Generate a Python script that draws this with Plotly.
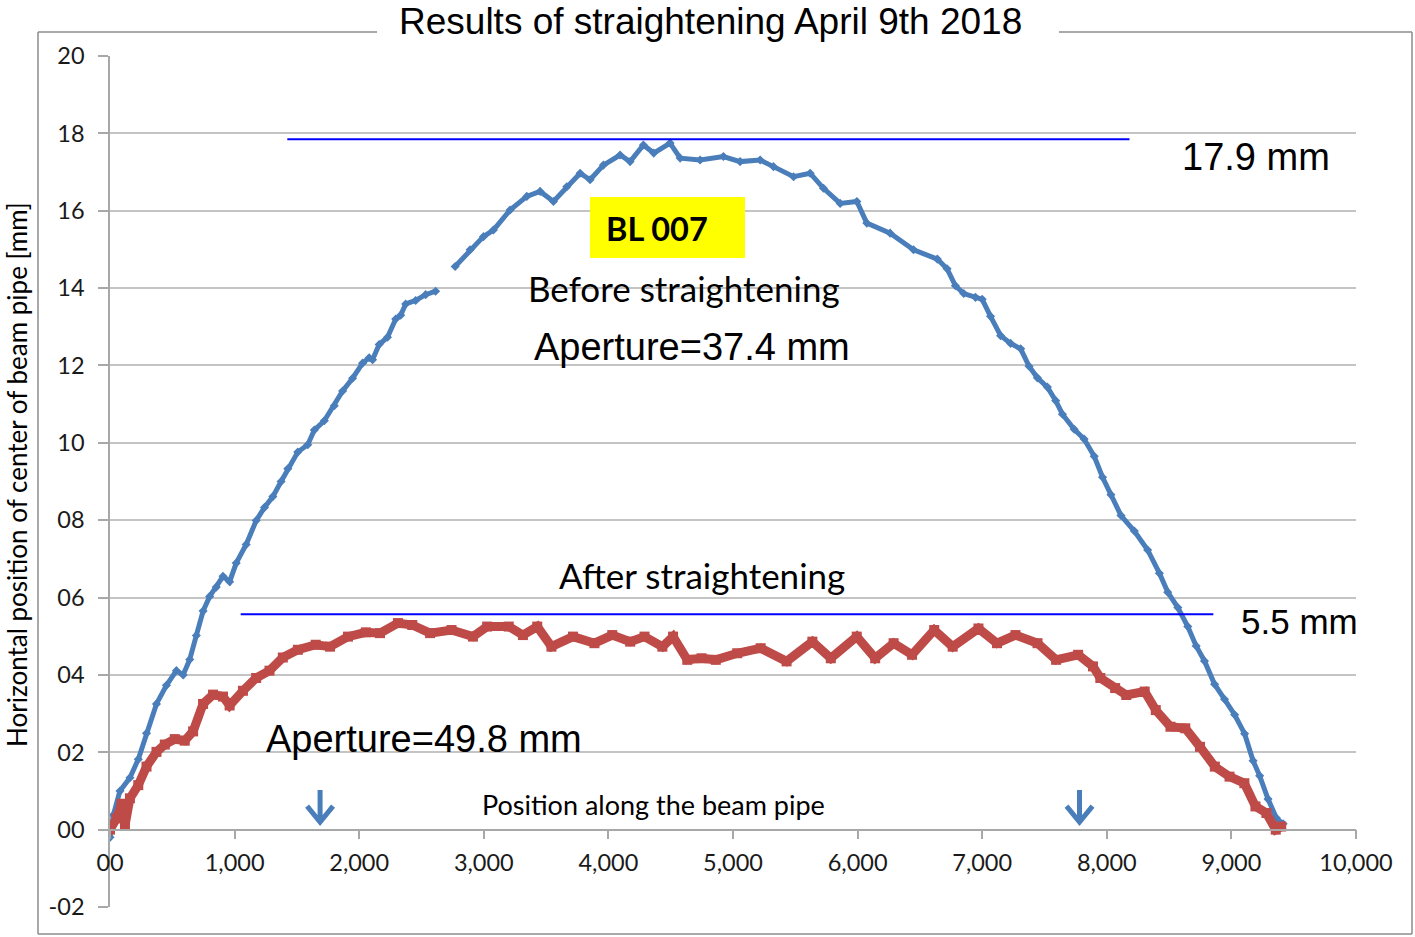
import plotly.graph_objects as go

# ---------------- data ----------------
before_x = [0, 27, 80, 160, 227, 293, 373, 453, 533, 587, 640, 693, 747, 800, 853, 907, 960, 1013,
            1093, 1173, 1240, 1307, 1373, 1427, 1507, 1587, 1640, 1720, 1800, 1867, 1947, 2027, 2080,
            2107, 2160, 2227, 2293, 2333, 2373, 2453, 2533, 2613, None,
            2770, 2890, 2997, 3077, 3211, 3345, 3452, 3559, 3666, 3773, 3853, 3960, 4094, 4174, 4281,
            4364, 4495, 4576, 4736, 4923, 5057, 5218, 5325, 5486, 5619, 5726, 5860, 5994, 6074, 6261,
            6449, 6640, 6718, 6785, 6852, 6946, 7000, 7067, 7148, 7228, 7309, 7376, 7443, 7523, 7590,
            7644, 7738, 7818, 7899, 7966, 8033, 8114, 8221, 8328, 8422, 8489, 8570, 8650, 8717, 8784,
            8865, 8945, 9026, 9106, 9174, 9227, 9294, 9361, 9415]
before_y = [-0.2, 0.38, 1.0, 1.34, 1.82, 2.49, 3.25, 3.73, 4.11, 4.0, 4.4, 5.02, 5.65, 6.03, 6.27, 6.55,
            6.41, 6.89, 7.37, 7.99, 8.33, 8.61, 9.0, 9.33, 9.76, 9.95, 10.33, 10.57, 10.96, 11.34, 11.67,
            12.06, 12.2, 12.15, 12.54, 12.73, 13.2, 13.3, 13.59, 13.68, 13.83, 13.92, None,
            14.56, 14.99, 15.33, 15.5, 16.02, 16.37, 16.5, 16.24, 16.62, 16.97, 16.8, 17.18, 17.44, 17.27,
            17.7, 17.49, 17.75, 17.36, 17.31, 17.4, 17.27, 17.31, 17.14, 16.88, 16.97, 16.58, 16.19, 16.24,
            15.68, 15.42, 14.99, 14.75, 14.5, 14.06, 13.86, 13.76, 13.71, 13.27, 12.77, 12.57, 12.43, 11.98,
            11.68, 11.44, 11.09, 10.74, 10.35, 10.1, 9.65, 9.11, 8.66, 8.12, 7.72, 7.23, 6.63, 6.14, 5.74,
            5.25, 4.75, 4.36, 3.76, 3.37, 2.97, 2.48, 1.78, 1.39, 0.79, 0.3, 0.15]

after_x = [0, 53, 93, 120, 160, 227, 293, 373, 440, 520, 600, 667, 747, 827, 907, 960, 1067, 1173, 1280,
           1387, 1508, 1651, 1766, 1910, 2053, 2167, 2311, 2426, 2569, 2741, 2913, 3027, 3200, 3314, 3429,
           3543, 3716, 3888, 4031, 4175, 4290, 4433, 4519, 4633, 4748, 4862, 5034, 5222, 5430, 5637, 5785,
           5993, 6141, 6289, 6437, 6615, 6763, 6970, 7119, 7267, 7444, 7593, 7770, 7889, 7948, 8067, 8156,
           8304, 8393, 8511, 8630, 8748, 8867, 8985, 9104, 9193, 9281, 9356, 9400]
after_y = [0.0, 0.29, 0.67, 0.1, 0.81, 1.15, 1.63, 2.01, 2.2, 2.34, 2.3, 2.54, 3.25, 3.49, 3.44, 3.21, 3.59,
           3.92, 4.11, 4.45, 4.65, 4.78, 4.73, 4.99, 5.1, 5.08, 5.34, 5.29, 5.08, 5.16, 4.99, 5.25, 5.25, 5.03,
           5.25, 4.73, 4.99, 4.82, 5.03, 4.86, 4.99, 4.73, 4.99, 4.39, 4.43, 4.39, 4.56, 4.69, 4.35, 4.86,
           4.43, 4.99, 4.43, 4.82, 4.52, 5.16, 4.73, 5.2, 4.82, 5.03, 4.82, 4.39, 4.52, 4.22, 3.92, 3.66, 3.48,
           3.57, 3.09, 2.66, 2.62, 2.14, 1.63, 1.37, 1.2, 0.6, 0.43, 0.0, 0.08]

# reference lines (max deviation markers)
ref_before_x = [1423, 8182]
ref_before_y = [17.85, 17.85]
ref_after_x = [1049, 8855]
ref_after_y = [5.57, 5.57]

# markers along the pipe (arrows)
arrow_x = [1686, 7781]

x_tickvals = [0, 1000, 2000, 3000, 4000, 5000, 6000, 7000, 8000, 9000, 10000]
x_ticktext = ["00", "1,000", "2,000", "3,000", "4,000", "5,000", "6,000", "7,000", "8,000", "9,000", "10,000"]
y_tickvals = [20, 18, 16, 14, 12, 10, 8, 6, 4, 2, 0, -2]
y_ticktext = ["20", "18", "16", "14", "12", "10", "08", "06", "04", "02", "00", "-02"]

# ---------------- layout geometry (pixels) ----------------
W, H = 1415, 937
PL, PR, PT, PB = 110, 1356, 56, 907


def px(x):
    return (x - PL) / (PR - PL)


def py(y):
    return (PB - y) / (PB - PT)


BLUE = "#4A7EBB"
RED = "#BE4B48"
GRID = "#C4C4C4"
AXIS = "#A8A8A8"
CAL = "Lato, 'Open Sans', sans-serif"
ARIAL = "'Liberation Sans', Arial, sans-serif"

fig = go.Figure()

fig.add_trace(go.Scatter(x=before_x, y=before_y, mode="lines+markers", connectgaps=False,
                         line=dict(color=BLUE, width=5),
                         marker=dict(symbol="diamond", size=7, color=BLUE),
                         name="Before", hoverinfo="skip"))
fig.add_trace(go.Scatter(x=after_x, y=after_y, mode="lines+markers",
                         line=dict(color=RED, width=9),
                         marker=dict(symbol="square", size=10, color=RED),
                         name="After", hoverinfo="skip"))
fig.add_trace(go.Scatter(x=ref_before_x, y=ref_before_y, mode="lines",
                         line=dict(color="#0000FF", width=2), hoverinfo="skip"))
fig.add_trace(go.Scatter(x=ref_after_x, y=ref_after_y, mode="lines",
                         line=dict(color="#0000FF", width=2), hoverinfo="skip"))

shapes = []
# chart-area border with a gap for the title
bc = dict(color="#8C8C8C", width=1.5)
for (x0, y0, x1, y1) in [(38, 32, 377, 32), (1059, 32, 1412, 32), (38, 32, 38, 934),
                         (1412, 32, 1412, 934), (38, 934, 1412, 934)]:
    shapes.append(dict(type="line", xref="paper", yref="paper", x0=px(x0), y0=py(y0),
                       x1=px(x1), y1=py(y1), line=bc, layer="above"))
# yellow label box
shapes.append(dict(type="rect", xref="paper", yref="paper", x0=px(590), x1=px(745),
                   y0=py(258), y1=py(197), fillcolor="#FFFF00", line=dict(width=0), layer="above"))
# arrows
for ax in arrow_x:
    shapes.append(dict(type="path", xref="x", yref="y", xsizemode="pixel", ysizemode="pixel",
                       xanchor=ax, yanchor=0.17, path="M0,0 L0,33 M-13,17 L0,1 L13,17",
                       line=dict(color=BLUE, width=5), layer="above"))

ann = []


def text(x, y, t, font, size, color="#000000", yanchor="middle", xanchor="center", **kw):
    ann.append(dict(xref="paper", yref="paper", x=px(x), y=py(y), text=t, showarrow=False,
                    font=dict(family=font, size=size, color=color),
                    xanchor=xanchor, yanchor=yanchor, **kw))


text(710, 0, "Results of straightening April 9th 2018", ARIAL, 37, yanchor="top", borderpad=0)
text(1256, 157, "17.9 mm", ARIAL, 38)
text(1239, 621, "5.5 mm", ARIAL, 35, xanchor="left")
text(692, 347, "Aperture=37.4 mm", ARIAL, 38)
text(424, 739, "Aperture=49.8 mm", ARIAL, 38)
text(684, 288, "Before straightening", CAL, 35)
text(702, 575, "After straightening", CAL, 35)
text(653, 804, "Position along the beam pipe", CAL, 27)
text(657, 228, "<b>BL 007</b>", CAL, 32.5)
text(17, 475, "Horizontal position of center of beam pipe [mm]", CAL, 26, textangle=-90, borderpad=0)

fig.update_layout(
    width=W, height=H,
    margin=dict(l=PL, r=W - PR, t=PT, b=H - PB, pad=0),
    paper_bgcolor="white", plot_bgcolor="white",
    showlegend=False,
    shapes=shapes, annotations=ann,
    xaxis=dict(range=[0, 10000], tickvals=x_tickvals, ticktext=x_ticktext,
               showgrid=False, zeroline=False, showline=True, linecolor=AXIS, linewidth=1.5,
               ticks="outside", ticklen=9, tickcolor=AXIS, tickwidth=1.5,
               anchor="free", position=2 / 22,
               tickfont=dict(family=CAL, size=23.5, color="#1A1A1A"), ticklabelstandoff=3),
    yaxis=dict(range=[-2, 20], tickvals=y_tickvals, ticktext=y_ticktext,
               showgrid=True, gridcolor=GRID, gridwidth=1.5, zeroline=False,
               showline=True, linecolor=AXIS, linewidth=1.5,
               ticks="outside", ticklen=10, tickcolor=AXIS, tickwidth=1.5,
               tickfont=dict(family=CAL, size=23.5, color="#1A1A1A"), ticklabelstandoff=9),
)

fig.write_html("out.html", config={"displayModeBar": False},
               post_script="document.body.style.margin='0';")
